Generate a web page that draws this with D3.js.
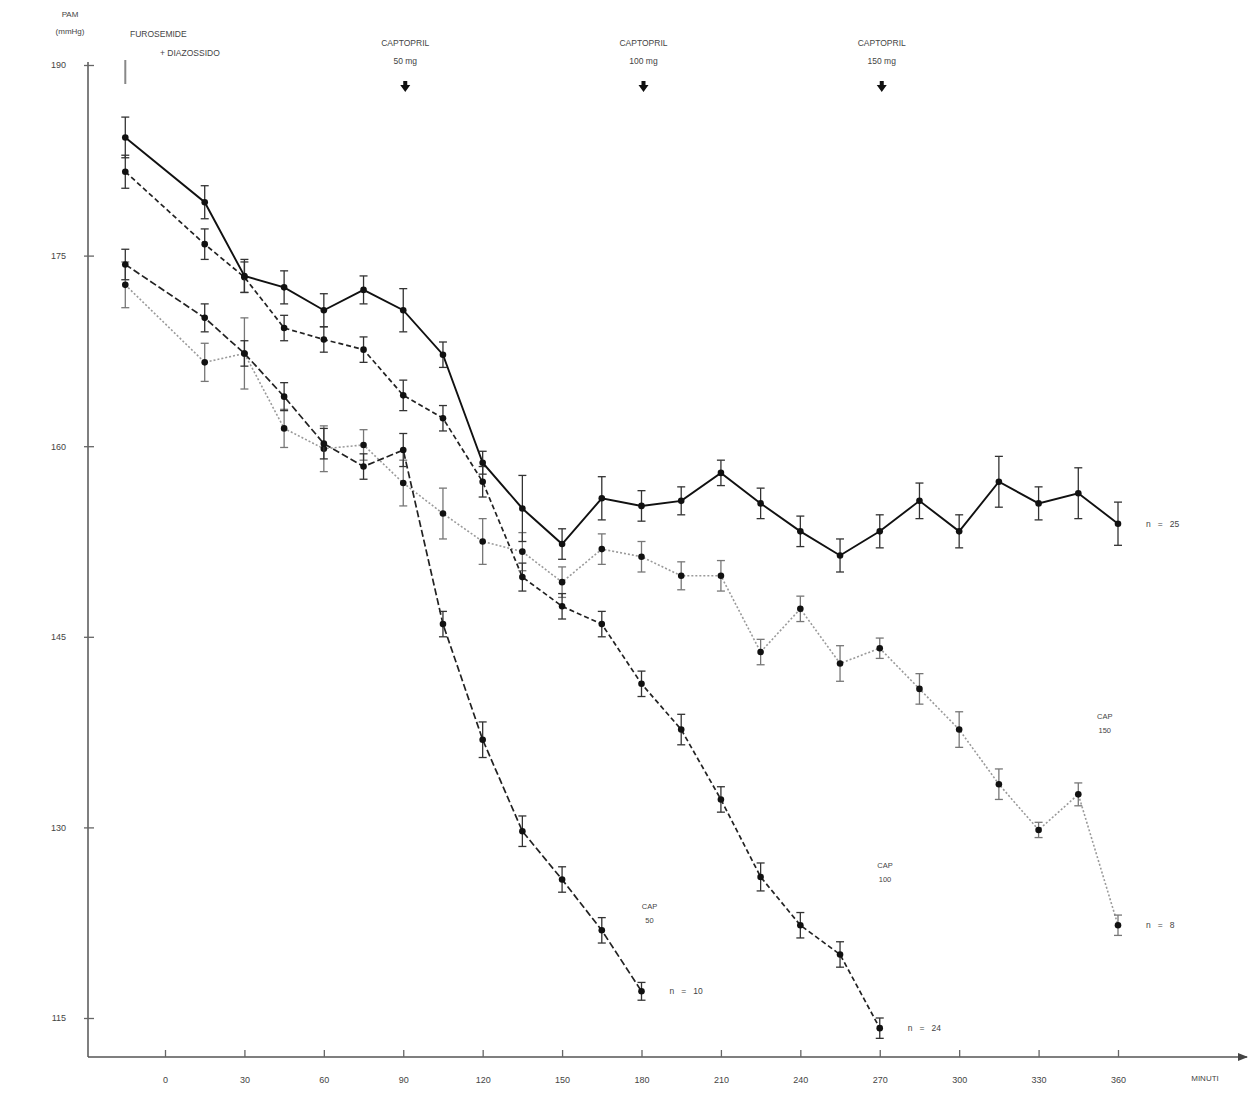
<!DOCTYPE html>
<html>
<head>
<meta charset="utf-8">
<script src="https://cdn.jsdelivr.net/npm/d3@7"></script>
<style>
  body { margin: 0; background: #fff; }
  text { font-family: "Liberation Sans", Arial, sans-serif; fill: #444; }
</style>
</head>
<body>
<div class="d3"></div>
<script>
// time points (minutes), -15 = basal
const timesAll = [-15, 15, 30, 45, 60, 75, 90, 105, 120, 135, 150, 165, 180, 195, 210, 225, 240, 255, 270, 285, 300, 315, 330, 345, 360];
const xTicks = [0, 30, 60, 90, 120, 150, 180, 210, 240, 270, 300, 330, 360];
const yTicks = [115, 130, 145, 160, 175, 190];

// PAM means (mmHg)
const solidMean = [184.3, 179.2, 173.4, 172.5, 170.7, 172.3, 170.7, 167.2, 158.7, 155.1, 152.3, 155.9, 155.3, 155.7, 157.9, 155.5, 153.3, 151.4, 153.3, 155.7, 153.3, 157.2, 155.5, 156.3, 153.9];
const solidSem = [1.6, 1.3, 1.3, 1.3, 1.3, 1.1, 1.7, 1.0, 0.9, 2.6, 1.2, 1.7, 1.2, 1.1, 1.0, 1.2, 1.2, 1.3, 1.3, 1.4, 1.3, 2.0, 1.3, 2.0, 1.7];

const cap100Mean = [181.6, 175.9, 173.3, 169.3, 168.4, 167.6, 164.0, 162.2, 157.2, 149.7, 147.4, 146.0, 141.3, 137.7, 132.2, 126.1, 122.3, 120.0, 114.2];
const cap100Sem = [1.3, 1.2, 1.2, 1.0, 1.0, 1.0, 1.2, 1.0, 1.2, 1.1, 1.0, 1.0, 1.0, 1.2, 1.0, 1.1, 1.0, 1.0, 0.8];

const cap50Mean = [174.3, 170.1, 167.3, 163.9, 160.2, 158.4, 159.7, 146.0, 136.9, 129.7, 125.9, 121.9, 117.1];
const cap50Sem = [1.2, 1.1, 1.0, 1.1, 1.2, 1.0, 1.3, 1.0, 1.4, 1.2, 1.0, 1.0, 0.7];

const cap150Mean = [172.7, 166.6, 167.3, 161.4, 159.8, 160.1, 157.1, 154.7, 152.5, 151.7, 149.3, 151.9, 151.3, 149.8, 149.8, 143.8, 147.2, 142.9, 144.1, 140.9, 137.7, 133.4, 129.8, 132.6, 122.3];
const cap150Sem = [1.8, 1.5, 2.8, 1.5, 1.8, 1.2, 1.8, 2.0, 1.8, 1.5, 1.2, 1.2, 1.2, 1.1, 1.2, 1.0, 1.0, 1.4, 0.8, 1.2, 1.4, 1.2, 0.6, 0.9, 0.8];

const captoprilTimes = [90, 180, 270];
const captoprilDoses = ['50 mg', '100 mg', '150 mg'];

// responder group labels (time, PAM where they sit)
const capLabelTimes = [183, 272, 355];
const capLabelValues = [123.6, 126.8, 138.5];
const capLabelDoses = ['50', '100', '150'];

let width = 1253;
let height = 1110;

let svg = d3.select('.d3').append('svg')
  .attr('width', width)
  .attr('height', height);

let x = d3.scaleLinear().domain([0, 360]).range([165, 1118]);
let y = d3.scaleLinear().domain([115, 190]).range([1018, 65]);

let axisY = 1057;
let axisX = 88;

// y axis
svg.append('line')
  .attr('x1', axisX).attr('x2', axisX)
  .attr('y1', 62).attr('y2', axisY)
  .attr('stroke', '#555').attr('stroke-width', 1.5);

let yAxis = svg.append('g')
  .attr('transform', `translate(${axisX},0)`)
  .call(d3.axisLeft(y).tickValues(yTicks).tickSize(0).tickPadding(22));
yAxis.select('.domain').remove();
yAxis.selectAll('.tick').append('line')
  .attr('x1', -4).attr('x2', 6)
  .attr('stroke', '#666').attr('stroke-width', 1.3);
yAxis.selectAll('text').style('font-size', '9px').attr('fill', '#555');

// x axis
svg.append('defs').append('marker')
  .attr('id', 'arr').attr('viewBox', '0 0 10 10')
  .attr('refX', 9).attr('refY', 5)
  .attr('markerWidth', 7).attr('markerHeight', 7)
  .attr('orient', 'auto')
  .append('path').attr('d', 'M0,1L10,5L0,9Z').attr('fill', '#444');

svg.append('line')
  .attr('x1', axisX).attr('x2', 1247)
  .attr('y1', axisY).attr('y2', axisY)
  .attr('stroke', '#555').attr('stroke-width', 1.5)
  .attr('marker-end', 'url(#arr)');

let xAxis = svg.append('g')
  .attr('transform', `translate(0,${axisY})`)
  .call(d3.axisBottom(x).tickValues(xTicks).tickSize(0).tickPadding(20));
xAxis.select('.domain').remove();
xAxis.selectAll('.tick').append('line')
  .attr('y1', -7).attr('y2', 0)
  .attr('stroke', '#666').attr('stroke-width', 1.3);
xAxis.selectAll('text').style('font-size', '9px').attr('fill', '#555');

svg.append('text').attr('x', 1205).attr('y', 1081)
  .attr('text-anchor', 'middle').style('font-size', '8px').text('MINUTI');

// axis title
svg.append('text').attr('x', 70).attr('y', 17)
  .attr('text-anchor', 'middle').style('font-size', '8px').text('PAM');
svg.append('text').attr('x', 70).attr('y', 34)
  .attr('text-anchor', 'middle').style('font-size', '8px').text('(mmHg)');

// treatment annotations
svg.append('text').attr('x', 130).attr('y', 37)
  .style('font-size', '8.5px').text('FUROSEMIDE');
svg.append('text').attr('x', 160).attr('y', 56)
  .style('font-size', '8.5px').text('+ DIAZOSSIDO');
svg.append('line')
  .attr('x1', x(-15)).attr('x2', x(-15))
  .attr('y1', 60).attr('y2', 84)
  .attr('stroke', '#888').attr('stroke-width', 2);

captoprilTimes.forEach((t, i) => {
  svg.append('text').attr('x', x(t) + 2).attr('y', 46)
    .attr('text-anchor', 'middle').style('font-size', '8.5px').text('CAPTOPRIL');
  svg.append('text').attr('x', x(t) + 2).attr('y', 64)
    .attr('text-anchor', 'middle').style('font-size', '8.5px').text(captoprilDoses[i]);
  svg.append('path')
    .attr('transform', `translate(${x(t) + 2},88)`)
    .attr('d', 'M-2,-7L2,-7L2,-3L5,-3L0,4L-5,-3L-2,-3Z')
    .attr('fill', '#111');
});

// series
function drawSeries(times, mean, sem, opts) {
  let pts = times.map((t, i) => ({ t: t, v: mean[i], e: sem[i] }));
  let line = d3.line().x(d => x(d.t)).y(d => y(d.v));
  let g = svg.append('g');

  g.append('path')
    .datum(pts)
    .attr('fill', 'none')
    .attr('stroke', opts.color)
    .attr('stroke-width', opts.width)
    .attr('stroke-dasharray', opts.dash)
    .attr('d', line);

  let bars = g.selectAll('g.bar').data(pts).enter().append('g');
  bars.append('line')
    .attr('x1', d => x(d.t)).attr('x2', d => x(d.t))
    .attr('y1', d => y(d.v + d.e)).attr('y2', d => y(d.v - d.e))
    .attr('stroke', opts.barColor).attr('stroke-width', 1.3);
  bars.append('line')
    .attr('x1', d => x(d.t) - 4).attr('x2', d => x(d.t) + 4)
    .attr('y1', d => y(d.v + d.e)).attr('y2', d => y(d.v + d.e))
    .attr('stroke', opts.barColor).attr('stroke-width', 1.3);
  bars.append('line')
    .attr('x1', d => x(d.t) - 4).attr('x2', d => x(d.t) + 4)
    .attr('y1', d => y(d.v - d.e)).attr('y2', d => y(d.v - d.e))
    .attr('stroke', opts.barColor).attr('stroke-width', 1.3);

  g.selectAll('circle').data(pts).enter().append('circle')
    .attr('cx', d => x(d.t)).attr('cy', d => y(d.v))
    .attr('r', 3.3).attr('fill', '#111');

  let last = pts[pts.length - 1];
  g.append('text')
    .attr('x', x(last.t) + 28).attr('y', y(last.v) + 3)
    .style('font-size', '8.5px')
    .attr('xml:space', 'preserve')
    .text(opts.label);
}

drawSeries(timesAll, cap150Mean, cap150Sem, { color: '#9a9a9a', width: 1.6, dash: '2,2', barColor: '#777', label: 'n   =   8' });
drawSeries(timesAll.slice(0, cap50Mean.length), cap50Mean, cap50Sem, { color: '#222', width: 1.7, dash: '7,3', barColor: '#333', label: 'n   =   10' });
drawSeries(timesAll.slice(0, cap100Mean.length), cap100Mean, cap100Sem, { color: '#222', width: 1.7, dash: '5,3', barColor: '#333', label: 'n   =   24' });
drawSeries(timesAll, solidMean, solidSem, { color: '#111', width: 1.9, dash: null, barColor: '#333', label: 'n   =   25' });

capLabelTimes.forEach((t, i) => {
  svg.append('text').attr('x', x(t)).attr('y', y(capLabelValues[i]))
    .attr('text-anchor', 'middle').style('font-size', '7.5px').text('CAP');
  svg.append('text').attr('x', x(t)).attr('y', y(capLabelValues[i]) + 14)
    .attr('text-anchor', 'middle').style('font-size', '7.5px').text(capLabelDoses[i]);
});
</script>
</body>
</html>
